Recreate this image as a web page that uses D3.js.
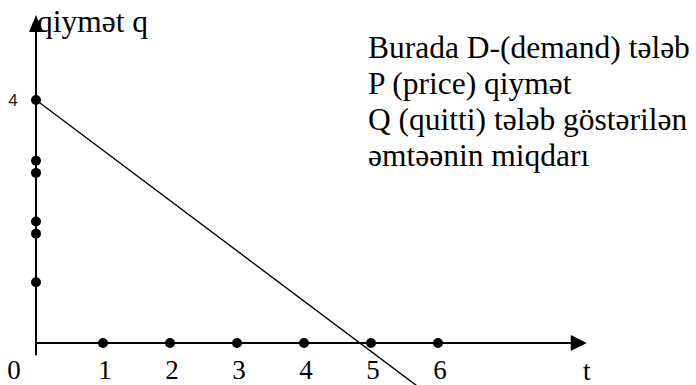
<!DOCTYPE html>
<html>
<head>
<meta charset="utf-8">
<script src="https://cdn.jsdelivr.net/npm/d3@7"></script>
<style>
  html, body { margin: 0; padding: 0; background: #fff; }
  svg { display: block; }
</style>
</head>
<body>
<svg id="chart" width="696" height="385"></svg>
<script>
// Məlumatlar
const xTicks = [0, 1, 2, 3, 4, 5, 6];
const xDots = [1, 2, 3, 4, 5, 6];
const yDots = [4, 3, 2.8, 2, 1.8, 1];
const yTickLabels = [4];
const demandLine = [[0, 4], [5.8, -0.8]];
const axisLimits = { xEnd: 8.22, yTop: 5.4, yBottom: -0.2 };
const axisNames = { x: 't', y: 'qiymət q' };
const noteLines = [
  'Burada D-(demand) tələb',
  'P (price) qiymət',
  'Q (quitti) tələb göstərilən',
  'əmtəənin miqdarı'
];

const SERIF = "'Liberation Serif'";
const SANS = "'Liberation Sans'";

const svg = d3.select('#chart');

const x = d3.scaleLinear().domain([0, 6]).range([36, 438]);
const y = d3.scaleLinear().domain([0, 4]).range([343, 100]);

// Oxlar
svg.append('line')
  .attr('x1', x(0)).attr('x2', x(axisLimits.xEnd) - 12)
  .attr('y1', y(0)).attr('y2', y(0))
  .attr('stroke', '#000').attr('stroke-width', 2);
svg.append('line')
  .attr('x1', x(0)).attr('x2', x(0))
  .attr('y1', y(axisLimits.yBottom)).attr('y2', y(axisLimits.yTop) + 12)
  .attr('stroke', '#000').attr('stroke-width', 2);

// Ox uclarında oxlar
const xe = x(axisLimits.xEnd), yz = y(0);
svg.append('path')
  .attr('d', `M${xe},${yz} L${xe - 16},${yz - 8} L${xe - 16},${yz + 8} Z`)
  .attr('fill', '#000');
const yt = y(axisLimits.yTop), xz = x(0);
svg.append('path')
  .attr('d', `M${xz},${yt} L${xz - 7},${yt + 17} L${xz + 7},${yt + 17} Z`)
  .attr('fill', '#000');

// Tələb xətti
svg.append('path')
  .datum(demandLine)
  .attr('d', d3.line().x(d => x(d[0])).y(d => y(d[1])))
  .attr('fill', 'none').attr('stroke', '#000').attr('stroke-width', 1.4);

// Nöqtələr
svg.append('g').selectAll('circle')
  .data(xDots).enter().append('circle')
  .attr('cx', d => x(d)).attr('cy', y(0)).attr('r', 5).attr('fill', '#000');
svg.append('g').selectAll('circle')
  .data(yDots).enter().append('circle')
  .attr('cx', x(0)).attr('cy', d => y(d)).attr('r', 5).attr('fill', '#000');

// Ox yazıları
svg.append('g').selectAll('text')
  .data(xTicks).enter().append('text')
  .attr('x', d => d === 0 ? x(0) - 22 : x(d) + 2)
  .attr('y', 379)
  .attr('text-anchor', 'middle')
  .style('font-family', SERIF).style('font-size', '27px')
  .text(d => d);

svg.append('g').selectAll('text')
  .data(yTickLabels).enter().append('text')
  .attr('x', x(0) - 23).attr('y', d => y(d) + 6)
  .attr('text-anchor', 'middle')
  .style('font-family', SANS).style('font-size', '17px').style('fill', '#222')
  .text(d => d);

svg.append('text')
  .attr('x', x(axisLimits.xEnd)).attr('y', 380)
  .attr('text-anchor', 'middle')
  .style('font-family', SERIF).style('font-size', '27px')
  .text(axisNames.x);

svg.append('text')
  .attr('x', x(0) + 1).attr('y', 32)
  .style('font-family', SERIF).style('font-size', '31.5px')
  .text(axisNames.y);

// Qeyd
svg.append('g').selectAll('text')
  .data(noteLines).enter().append('text')
  .attr('x', 368).attr('y', (d, i) => 58 + i * 36)
  .style('font-family', SERIF).style('font-size', '31.5px')
  .text(d => d);
</script>
</body>
</html>
